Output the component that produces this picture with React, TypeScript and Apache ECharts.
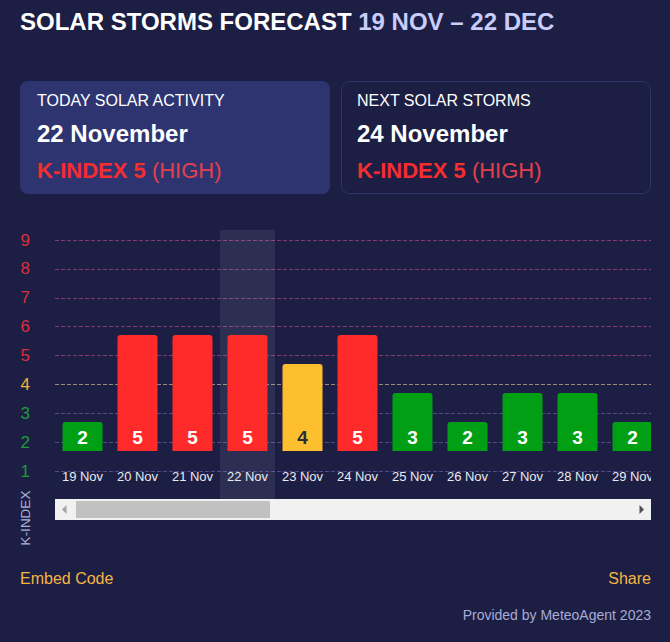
import React, { useEffect, useRef } from 'react';
import * as echarts from 'echarts';

// ---- data ----
const days = ['19 Nov', '20 Nov', '21 Nov', '22 Nov', '23 Nov', '24 Nov', '25 Nov', '26 Nov', '27 Nov', '28 Nov', '29 Nov'];
const kIndex = [2, 5, 5, 5, 4, 5, 3, 2, 3, 3, 2];
const todayDay = '22 Nov';
const yMin = 1;
const yMax = 9;

const titleMain = 'SOLAR STORMS FORECAST';
const titleRange = '19 NOV – 22 DEC';
const cardHeads = ['TODAY SOLAR ACTIVITY', 'NEXT SOLAR STORMS'];
const cardDates = ['22 November', '24 November'];
const cardK = [5, 5];
const cardLevels = ['HIGH', 'HIGH'];
const yAxisName = 'K-INDEX';
const footerLeft = 'Embed Code';
const footerRight = 'Share';
const footerCredit = 'Provided by MeteoAgent 2023';

// ---- styles ----
const FONT = '"Liberation Sans", Arial, Helvetica, sans-serif';
const BG = '#1c1f43';
const CARD1 = '#2e3470';
const CARD2_BORDER = '#2f3467';
const RED = '#ff2b2b';
const YELLOW = '#fdbf2d';
const GREEN = '#009f14';

const barColor = (v: number) => (v >= 5 ? RED : v === 4 ? YELLOW : GREEN);
const labelColor = (v: number) => (v >= 5 ? '#d9303f' : v === 4 ? '#f0b03a' : '#1e9b3c');
const splitColors = ['#524b88', '#524b88', '#524b88', '#9b8a78', '#823a6e', '#823a6e', '#823a6e', '#823a6e', '#823a6e'];

function buildGraphics(band: any | null) {
  const g: any[] = [];
  // title
  g.push({
    type: 'text', z: 100,
    style: {
      x: 20, y: 21, verticalAlign: 'middle', align: 'left',
      text: `{a|${titleMain} }{b|${titleRange}}`,
      rich: {
        a: { fill: '#ffffff', fontSize: 24, fontWeight: 'bold', fontFamily: FONT },
        b: { fill: '#c9cdfc', fontSize: 24, fontWeight: 'bold', fontFamily: FONT },
      },
    },
  });
  // cards
  g.push({ type: 'rect', z: 90, shape: { x: 20, y: 81, width: 310, height: 113, r: 8 }, style: { fill: CARD1 } });
  g.push({ type: 'rect', z: 90, shape: { x: 341.5, y: 81.5, width: 309, height: 112, r: 8 }, style: { fill: BG, stroke: CARD2_BORDER, lineWidth: 1 } });
  const cardX = [37, 357];
  cardX.forEach((cx, i) => {
    g.push({ type: 'text', z: 100, style: { x: cx, y: 100, verticalAlign: 'middle', text: cardHeads[i], fill: '#ffffff', fontSize: 16, fontFamily: FONT } });
    g.push({ type: 'text', z: 100, style: { x: cx, y: 133, verticalAlign: 'middle', text: cardDates[i], fill: '#ffffff', fontSize: 24, fontWeight: 'bold', fontFamily: FONT } });
    g.push({
      type: 'text', z: 100,
      style: {
        x: cx, y: 170, verticalAlign: 'middle',
        text: `{k|K-INDEX ${cardK[i]} }{l|(${cardLevels[i]})}`,
        rich: {
          k: { fill: '#f52d2f', fontSize: 22, fontWeight: 'bold', fontFamily: FONT },
          l: { fill: '#e2404c', fontSize: 22, fontFamily: FONT },
        },
      },
    });
  });
  // overflow cover (scroll container edge)
  g.push({ type: 'rect', z: 50, shape: { x: 651, y: 222, width: 19, height: 277 }, style: { fill: BG } });
  // scrollbar
  g.push({ type: 'rect', z: 100, shape: { x: 55, y: 499, width: 596, height: 21 }, style: { fill: '#f1f1f1' } });
  g.push({ type: 'rect', z: 101, shape: { x: 76, y: 501, width: 194, height: 17 }, style: { fill: '#c1c1c1' } });
  g.push({ type: 'polygon', z: 101, shape: { points: [[62, 509.5], [66.5, 505], [66.5, 514]] }, style: { fill: '#a3a3a3' } });
  g.push({ type: 'polygon', z: 101, shape: { points: [[644, 509.5], [639.5, 505], [639.5, 514]] }, style: { fill: '#505050' } });
  // y-axis name
  g.push({
    type: 'text', z: 100, x: 25, y: 518, rotation: Math.PI / 2,
    style: { x: 0, y: 0, align: 'center', verticalAlign: 'middle', text: yAxisName, fill: '#aab0d8', fontSize: 13.5, fontFamily: FONT },
  });
  // footer
  g.push({ type: 'text', z: 100, style: { x: 20, y: 578, verticalAlign: 'middle', text: footerLeft, fill: '#f6b443', fontSize: 16, fontFamily: FONT } });
  g.push({ type: 'text', z: 100, style: { x: 651, y: 578, align: 'right', verticalAlign: 'middle', text: footerRight, fill: '#f6b443', fontSize: 16, fontFamily: FONT } });
  g.push({ type: 'text', z: 100, style: { x: 651, y: 615, align: 'right', verticalAlign: 'middle', text: footerCredit, fill: '#a7abd6', fontSize: 14, fontFamily: FONT } });
  if (band) g.push(band);
  return g;
}

function buildOption(band: any | null) {
  return {
    animation: false,
    backgroundColor: BG,
    textStyle: { fontFamily: FONT },
    grid: [
      { left: 55, top: 240, width: 605, height: 231 },
      { left: 55, top: 219, width: 605, height: 232 },
    ],
    xAxis: [
      {
        type: 'category', gridIndex: 0, data: days, boundaryGap: true,
        axisLine: { show: false }, axisTick: { show: false }, splitLine: { show: false },
        axisLabel: { interval: 0, color: '#e9ebf4', fontSize: 13, margin: -1, fontFamily: FONT },
      },
      { type: 'category', gridIndex: 1, data: days, boundaryGap: true, show: false },
    ],
    yAxis: [
      {
        type: 'value', gridIndex: 0, min: yMin, max: yMax, interval: 1,
        axisLine: { show: false }, axisTick: { show: false },
        axisLabel: {
          margin: 25, fontSize: 17, fontFamily: FONT, padding: [0, 0, 4, 0],
          color: (val: any) => labelColor(Number(val)),
        },
        splitLine: { show: true, lineStyle: { type: 'dashed', width: 1, color: splitColors } },
      },
      { type: 'value', gridIndex: 1, min: yMin, max: yMax, startValue: yMin, show: false, splitLine: { show: false } },
    ],
    series: [
      {
        type: 'bar', xAxisIndex: 1, yAxisIndex: 1, barWidth: 40, clip: true, z: 5,
        data: kIndex.map((v) => ({
          value: v,
          itemStyle: { color: barColor(v) },
          label: { color: v === 4 ? '#2b2b3b' : '#ffffff' },
        })),
        itemStyle: { borderRadius: [3, 3, 0, 0] },
        label: { show: true, position: 'insideBottom', distance: 4, fontSize: 19, fontWeight: 'bold', fontFamily: FONT },
      },
    ],
    graphic: buildGraphics(band),
  };
}

export default function App() {
  const ref = useRef<HTMLDivElement>(null);
  useEffect(() => {
    if (!ref.current) return;
    const chart = echarts.init(ref.current, undefined, { renderer: 'svg' });
    chart.setOption(buildOption(null) as any);
    const p0 = chart.convertToPixel({ xAxisIndex: 0 } as any, days[0]) as number;
    const p1 = chart.convertToPixel({ xAxisIndex: 0 } as any, days[1]) as number;
    const pc = chart.convertToPixel({ xAxisIndex: 0 } as any, todayDay) as number;
    const w = p1 - p0;
    const band = {
      type: 'rect', z: 1,
      shape: { x: pc - w / 2, y: 230, width: w, height: 269 },
      style: { fill: 'rgba(255,255,255,0.075)' },
    };
    chart.setOption(buildOption(band) as any, { notMerge: true });
    return () => chart.dispose();
  }, []);
  return <div ref={ref} style={{ position: 'fixed', left: 0, top: 0, width: 670, height: 642 }} />;
}
